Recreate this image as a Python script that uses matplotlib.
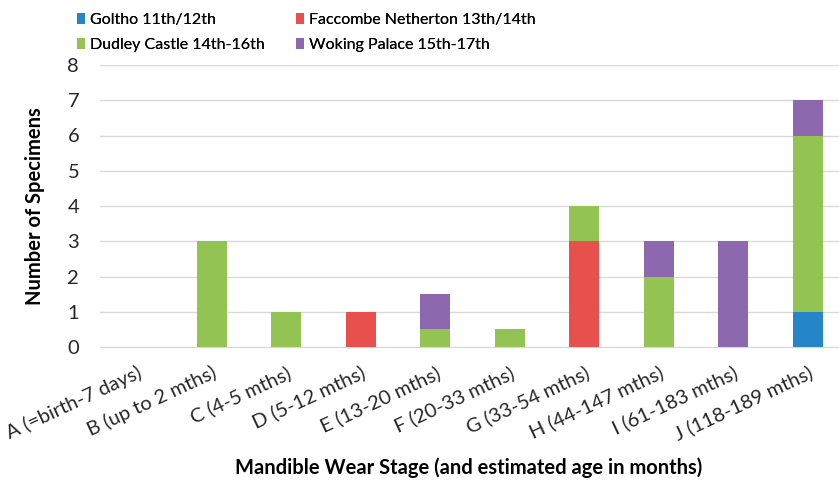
import matplotlib.pyplot as plt
import numpy as np

plt.rcParams['font.family'] = ['Lato', 'DejaVu Sans']

# categorias (estágio de desgaste)
stages = ['A (=birth-7 days)', 'B (up to 2 mths)', 'C (4-5 mths)', 'D (5-12 mths)',
          'E (13-20 mths)', 'F (20-33 mths)', 'G (33-54 mths)', 'H (44-147 mths)',
          'I (61-183 mths)', 'J (118-189 mths)']

# séries
goltho = [0, 0, 0, 0, 0, 0, 0, 0, 0, 1]
faccombe = [0, 0, 0, 1, 0, 0, 3, 0, 0, 0]
dudley = [0, 3, 1, 0, 0.5, 0.5, 1, 2, 0, 5]
woking = [0, 0, 0, 0, 1, 0, 0, 1, 3, 1]

names = ['Goltho 11th/12th', 'Faccombe Netherton 13th/14th',
         'Dudley Castle 14th-16th', 'Woking Palace 15th-17th']
colors = ['#2585C8', '#E8504E', '#92C353', '#8E68AE']

fig = plt.figure(figsize=(8.39, 4.83), dpi=100)
ax = fig.add_axes([100 / 839, 136 / 483, 745 / 839, 282 / 483])

x = np.arange(len(stages))
bottom = np.zeros(len(stages))
bars = []
for vals, name, c in zip([goltho, faccombe, dudley, woking], names, colors):
    b = ax.bar(x, vals, width=0.4, bottom=bottom, color=c, label=name, zorder=3)
    bars.append(b)
    bottom += np.array(vals)

ax.set_xlim(-0.5, len(stages) - 0.5)
ax.set_ylim(0, 8)
ax.set_yticks(range(0, 9))
ax.grid(axis='y', color='#D9D9D9', linewidth=1, zorder=0)
for s in ['top', 'right', 'left']:
    ax.spines[s].set_visible(False)
ax.spines['bottom'].set_color('#D9D9D9')
ax.tick_params(axis='both', length=0, labelsize=14.5, colors='#262626')
ax.tick_params(axis='y', pad=15)

ax.set_xticks(x)
ax.set_xticklabels(stages, rotation=25, ha='right', rotation_mode='anchor')
ax.tick_params(axis='x', pad=12)

ax.set_ylabel('Number of Specimens', fontsize=14.5, fontweight='bold', labelpad=16)
fig.text(469 / 839, 1 - 468 / 483, 'Mandible Wear Stage (and estimated age in months)',
         ha='center', va='center', fontsize=14.5, fontweight='bold')

# legenda: duas colunas posicionadas separadamente
for cols, x0 in [([0, 2], 77), ([1, 3], 296)]:
    leg = fig.legend([bars[i] for i in cols], [names[i] for i in cols],
                     loc='upper left', bbox_to_anchor=(x0 / 839, 1 - 13 / 483),
                     frameon=False, fontsize=11.5, handlelength=0.5, handleheight=0.7,
                     handletextpad=0.3, labelspacing=0.68, borderpad=0, borderaxespad=0)
    fig.add_artist(leg)

fig.savefig('out.png', dpi=100)
